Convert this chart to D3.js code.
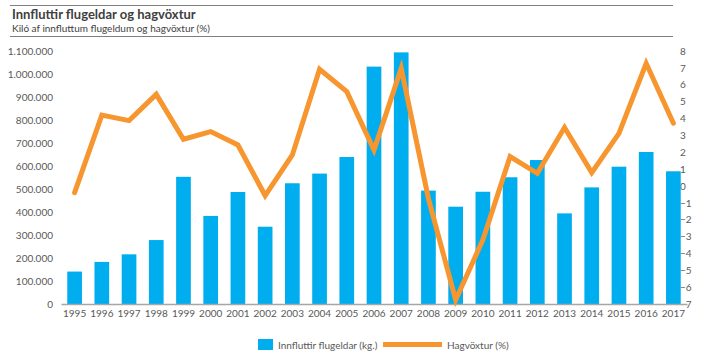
<!DOCTYPE html>
<html>
<head>
<meta charset="utf-8">
<script src="https://cdn.jsdelivr.net/npm/d3@7"></script>
<style>
  body { margin: 0; background: #fff; }
  svg { display: block; }
  text { font-family: Lato, "Open Sans", sans-serif; }
</style>
</head>
<body>
<svg id="chart" width="713" height="355"></svg>
<script>
const years = ["1995","1996","1997","1998","1999","2000","2001","2002","2003","2004","2005","2006","2007","2008","2009","2010","2011","2012","2013","2014","2015","2016","2017"];
const fireworksKg = [141000,183000,216000,278000,553000,383000,487000,336000,525000,567000,639000,1032000,1094000,493000,423000,488000,551000,626000,394000,507000,597000,661000,577000];
const gdpGrowth = [-0.4,4.2,3.87,5.43,2.77,3.22,2.43,-0.57,1.84,6.92,5.59,2.13,6.97,-0.75,-6.76,-3.2,1.74,0.75,3.46,0.79,3.12,7.27,3.72];
const leftTicks = [0,100000,200000,300000,400000,500000,600000,700000,800000,900000,1000000,1100000];
const rightTicks = [-7,-6,-5,-4,-3,-2,-1,0,1,2,3,4,5,6,7,8];
const titleText = "Innfluttir flugeldar og hagvöxtur";
const subtitleText = "Kiló af innfluttum flugeldum og hagvöxtur (%)";
const barLabel = "Innfluttir flugeldar (kg.)";
const lineLabel = "Hagvöxtur (%)";

const svg = d3.select("#chart");
const barColor = "#00adef";
const lineColor = "#f7952f";
const textColor = "#595959";

// header rules and titles
svg.append("line").attr("x1",10).attr("x2",673).attr("y1",5.5).attr("y2",5.5).attr("stroke","#7f7f7f").attr("stroke-width",1.2);
svg.append("line").attr("x1",10).attr("x2",673).attr("y1",36.5).attr("y2",36.5).attr("stroke","#7f7f7f").attr("stroke-width",1.2);
svg.append("text").attr("x",12).attr("y",19).attr("font-size",13).attr("font-weight","bold").attr("fill","#404040").text(titleText);
svg.append("text").attr("x",12).attr("y",32).attr("font-size",10).attr("fill","#404040").text(subtitleText);

const x = d3.scaleBand().domain(years).range([61, 687]).paddingInner(0.46).paddingOuter(0.23);
const yL = d3.scaleLinear().domain([0,1100000]).range([304, 51]);
const yR = d3.scaleLinear().domain([-7,8]).range([304, 51]);

const fmt = v => d3.format(",")(v).replace(/,/g, ".");

// left axis
const gL = svg.append("g").attr("transform","translate(58,0)")
  .call(d3.axisLeft(yL).tickValues(leftTicks).tickFormat(fmt).tickSize(0).tickPadding(5));
gL.select(".domain").remove();
gL.selectAll("text").attr("font-size",10).attr("fill",textColor).style("font-family","Lato, sans-serif");

// right axis
const gR = svg.append("g").attr("transform","translate(677,0)")
  .call(d3.axisRight(yR).tickValues(rightTicks).tickFormat(d3.format("d")).tickSize(0).tickPadding(3));
gR.select(".domain").remove();
gR.selectAll("text").attr("font-size",10).attr("fill",textColor).style("font-family","Lato, sans-serif");

// bars
svg.append("g").selectAll("rect").data(years).join("rect")
  .attr("x", d => x(d))
  .attr("y", (d,i) => yL(fireworksKg[i]))
  .attr("width", x.bandwidth())
  .attr("height", (d,i) => yL(0) - yL(fireworksKg[i]))
  .attr("fill", barColor);

// x axis
const gX = svg.append("g").attr("transform","translate(0,304)")
  .call(d3.axisBottom(x).tickSize(0).tickPadding(6));
gX.select(".domain").attr("stroke","#a6a6a6").attr("stroke-width",1.5);
gX.selectAll("text").attr("font-size",10).attr("fill",textColor).style("font-family","Lato, sans-serif");

// line
const line = d3.line().x((d,i) => x(years[i]) + x.bandwidth()/2).y(d => yR(d));
svg.append("path").datum(gdpGrowth).attr("d", line)
  .attr("fill","none").attr("stroke", lineColor).attr("stroke-width",5)
  .attr("stroke-linejoin","miter").attr("stroke-linecap","round");

// legend
const lg = svg.append("g");
lg.append("rect").attr("x",258).attr("y",339).attr("width",15).attr("height",11).attr("fill",barColor);
lg.append("text").attr("x",278).attr("y",348.5).attr("font-size",10).attr("fill",textColor).text(barLabel);
lg.append("line").attr("x1",383).attr("x2",442).attr("y1",344.5).attr("y2",344.5).attr("stroke",lineColor).attr("stroke-width",5);
lg.append("text").attr("x",447).attr("y",348.5).attr("font-size",10).attr("fill",textColor).text(lineLabel);
</script>
</body>
</html>
